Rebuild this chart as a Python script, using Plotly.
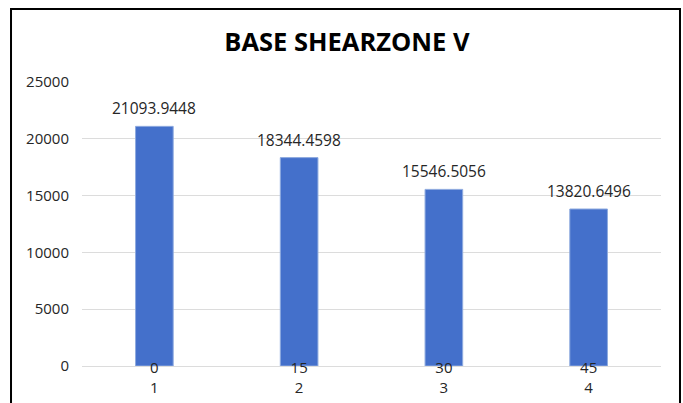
import plotly.graph_objects as go

# chart data
angles = ["0", "15", "30", "45"]
cases = ["1", "2", "3", "4"]
base_shear = [21093.9448, 18344.4598, 15546.5056, 13820.6496]

FONT = "Open Sans"
TEXT_COLOR = "#262626"

fig = go.Figure()

fig.add_trace(go.Bar(
    x=cases, y=base_shear,
    width=0.26,
    marker=dict(color="#4470cb", line=dict(color="#8eaadf", width=1)),
    showlegend=False,
    hoverinfo="x+y",
))

# data labels above the bars (category axis -> use the category index)
for i, v in enumerate(base_shear):
    fig.add_annotation(x=i, y=v, text=f"{v:.4f}", showarrow=False,
                       yanchor="bottom", yshift=5,
                       font=dict(family=FONT, size=15.5, color=TEXT_COLOR))

# black frame round the chart area
fig.add_shape(type="rect", xref="paper", yref="paper",
              x0=-0.1226, x1=1.0328, y0=-0.2, y1=1.257,
              line=dict(color="black", width=2), layer="above")

fig.update_layout(
    width=683, height=403,
    margin=dict(l=82, r=22, t=82, b=37, autoexpand=False),
    paper_bgcolor="white", plot_bgcolor="white",
    title=dict(text="<b>BASE SHEARZONE V</b>", x=0.508, xanchor="center",
               xref="container", y=0.895, yanchor="middle",
               font=dict(family=FONT, size=25.5, color="black")),
    font=dict(family=FONT, size=15, color=TEXT_COLOR),
)

fig.update_xaxes(
    type="category", automargin=False,
    tickmode="array", tickvals=cases,
    ticktext=[f"{a}<br>{c}" for a, c in zip(angles, cases)],
    ticklabelstandoff=-9,
    showgrid=False, showline=False, zeroline=False, ticks="",
    tickfont=dict(family=FONT, size=15, color=TEXT_COLOR),
)
fig.update_yaxes(
    range=[0, 25000], dtick=5000, tickformat="d", automargin=False,
    showgrid=True, gridcolor="#dcdcdc", gridwidth=1,
    zeroline=True, zerolinecolor="#dcdcdc", zerolinewidth=1,
    showline=False, ticks="", ticklabelstandoff=12,
    tickfont=dict(family=FONT, size=15, color=TEXT_COLOR),
)

# drop the default page margin so the chart sits at the window's corner
fig.write_html("out.html", config={"displayModeBar": False},
               post_script="document.body.style.margin='0';")
